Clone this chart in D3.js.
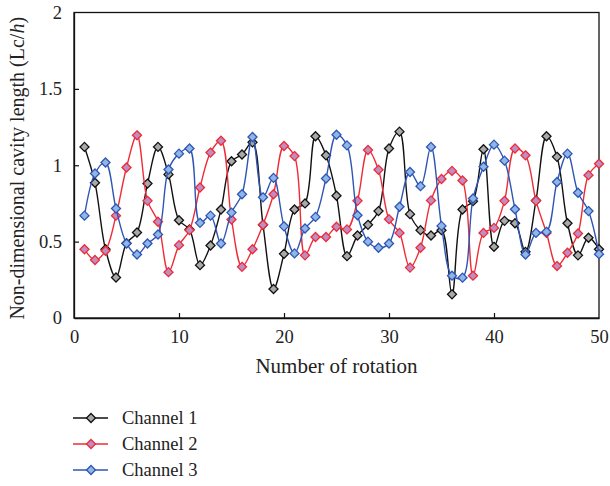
<!DOCTYPE html>
<html>
<head>
<meta charset="utf-8">
<script src="https://cdn.jsdelivr.net/npm/d3@7"></script>
<style>
  html, body { margin: 0; padding: 0; background: #fff; }
  svg { display: block; }
  text { font-family: "Liberation Serif", "DejaVu Serif", serif; fill: #222; }
</style>
</head>
<body>
<svg id="chart" width="610" height="486"></svg>
<script>
// Rotation index 1..50
const rotations = d3.range(1, 51);

const channel1 = [1.12, 0.885, 0.45, 0.265, 0.49, 0.56, 0.88, 1.12, 0.94, 0.64,
  0.58, 0.346, 0.475, 0.71, 1.026, 1.07, 1.15, 0.61, 0.19, 0.42,
  0.71, 0.75, 1.19, 1.065, 0.80, 0.405, 0.54, 0.61, 0.70, 1.11,
  1.22, 0.68, 0.575, 0.54, 0.575, 0.155, 0.71, 0.765, 1.105, 0.466,
  0.636, 0.62, 0.433, 0.77, 1.19, 1.055, 0.62, 0.41, 0.525, 0.45];

const channel2 = [0.45, 0.38, 0.44, 0.67, 0.985, 1.196, 0.767, 0.63, 0.30, 0.477,
  0.575, 0.854, 1.083, 1.16, 0.645, 0.335, 0.45, 0.61, 0.81, 1.126,
  1.06, 0.41, 0.53, 0.53, 0.597, 0.58, 0.767, 1.10, 0.97, 0.647,
  0.557, 0.33, 0.46, 0.77, 0.91, 0.963, 0.90, 0.277, 0.557, 0.59,
  0.767, 1.11, 1.065, 0.767, 0.557, 0.34, 0.427, 0.553, 0.935, 1.01];

const channel3 = [0.67, 0.946, 1.018, 0.717, 0.488, 0.416, 0.488, 0.547, 0.972, 1.076,
  1.11, 0.623, 0.67, 0.488, 0.69, 0.81, 1.185, 0.79, 0.917, 0.60,
  0.423, 0.586, 0.662, 0.913, 1.20, 1.13, 0.673, 0.50, 0.46, 0.488,
  0.728, 0.956, 0.863, 1.12, 0.603, 0.277, 0.264, 0.782, 0.99, 1.135,
  1.03, 0.712, 0.416, 0.557, 0.564, 0.89, 1.076, 0.82, 0.70, 0.418];

const seriesNames = ["Channel 1", "Channel 2", "Channel 3"];
const xTicks = [0, 10, 20, 30, 40, 50];
const yTicks = [0, 0.5, 1, 1.5, 2];

const styles = [
  { stroke: "#111111", fill: "#a9a9a9" },
  { stroke: "#ee2b36", fill: "#bf8cc4" },
  { stroke: "#2e55b4", fill: "#8fb6e6" }
];

const svg = d3.select("#chart");
const margin = { left: 74, right: 11, top: 12.5, bottom: 168 };
const W = 610, H = 486;

const x = d3.scaleLinear().domain([0, 50]).range([margin.left, W - margin.right]);
const y = d3.scaleLinear().domain([0, 2]).range([H - margin.bottom, margin.top]);

// Frame
svg.append("rect")
  .attr("x", x(0)).attr("y", y(2))
  .attr("width", x(50) - x(0)).attr("height", y(0) - y(2))
  .attr("fill", "none").attr("stroke", "#111").attr("stroke-width", 1.3);

// Axes with inward ticks
const xAxis = d3.axisBottom(x).tickValues(xTicks).tickSizeInner(-5).tickSizeOuter(0)
  .tickPadding(12).tickFormat(d3.format("d"));
const yAxis = d3.axisLeft(y).tickValues(yTicks).tickSizeInner(-5).tickSizeOuter(0)
  .tickPadding(12).tickFormat(d => d3.format("")(d));

const gx = svg.append("g").attr("transform", `translate(0,${y(0)})`).call(xAxis);
const gy = svg.append("g").attr("transform", `translate(${x(0)},0)`).call(yAxis);
[gx, gy].forEach(g => {
  g.select(".domain").attr("stroke", "#111").attr("stroke-width", 1.3);
  g.selectAll(".tick line").attr("stroke", "#111").attr("stroke-width", 1.2);
  g.selectAll(".tick text").attr("font-size", 18.5).attr("fill", "#222")
    .attr("font-family", "Liberation Serif, DejaVu Serif, serif");
});
gx.selectAll(".tick").filter(d => d === 0 || d === 50).select("line").remove();
gy.selectAll(".tick").filter(d => d === 0 || d === 2).select("line").remove();

// Axis titles
svg.append("text")
  .attr("x", (x(0) + x(50)) / 2).attr("y", 373)
  .attr("text-anchor", "middle").attr("font-size", 21)
  .text("Number of rotation");

const yl = svg.append("text")
  .attr("transform", `translate(24,${(y(0) + y(2)) / 2 + 3}) rotate(-90)`)
  .attr("text-anchor", "middle").attr("font-size", 20);
yl.append("tspan").text("Non-dimensional cavity length (Lc/");
yl.append("tspan").attr("font-style", "italic").text("h");
yl.append("tspan").text(")");

// Series
const data = [channel1, channel2, channel3].map((vals, i) => ({
  name: seriesNames[i],
  style: styles[i],
  points: rotations.map((r, j) => ({ x: r, y: vals[j] }))
}));

const line = d3.line()
  .x(d => x(d.x)).y(d => y(d.y))
  .curve(d3.curveCatmullRom.alpha(0.5));

const diamond = d3.symbol().type(d3.symbolDiamond2).size(52);

data.forEach(s => {
  const g = svg.append("g");
  g.append("path")
    .attr("d", line(s.points))
    .attr("fill", "none")
    .attr("stroke", s.style.stroke)
    .attr("stroke-width", 1.4);
  g.selectAll("path.pt").data(s.points).enter().append("path")
    .attr("class", "pt")
    .attr("d", diamond)
    .attr("transform", d => `translate(${x(d.x)},${y(d.y)})`)
    .attr("fill", s.style.fill)
    .attr("stroke", s.style.stroke)
    .attr("stroke-width", 1.3);
});

// Legend
const legend = svg.append("g");
data.forEach((s, i) => {
  const ly = 418 + i * 26;
  legend.append("line")
    .attr("x1", 73).attr("x2", 108).attr("y1", ly).attr("y2", ly)
    .attr("stroke", s.style.stroke).attr("stroke-width", 1.4);
  legend.append("path")
    .attr("d", diamond)
    .attr("transform", `translate(91,${ly})`)
    .attr("fill", s.style.fill).attr("stroke", s.style.stroke).attr("stroke-width", 1.3);
  legend.append("text")
    .attr("x", 122).attr("y", ly + 6)
    .attr("font-size", 18.5)
    .text(s.name);
});
</script>
</body>
</html>
